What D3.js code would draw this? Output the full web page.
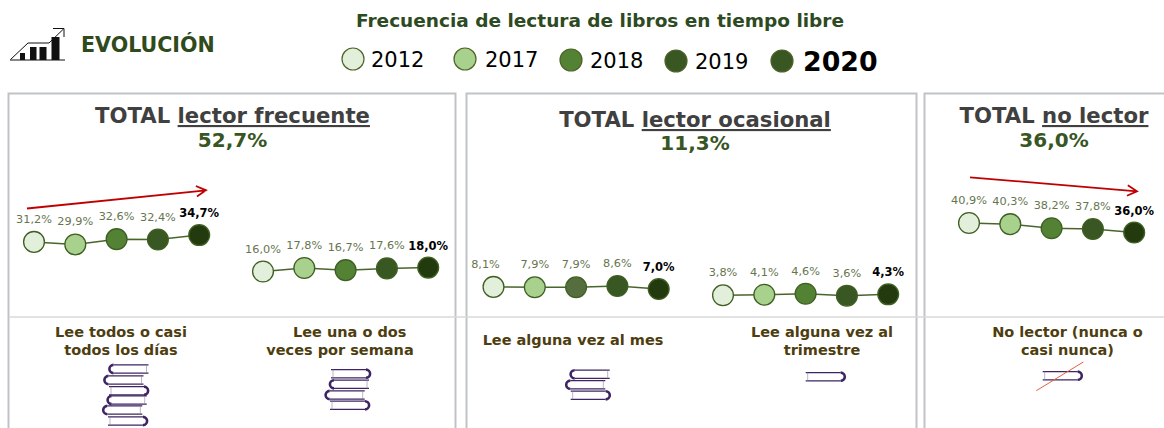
<!DOCTYPE html>
<html><head><meta charset="utf-8">
<script src="https://cdnjs.cloudflare.com/ajax/libs/d3/7.8.5/d3.min.js"></script>
<style>html,body{margin:0;padding:0;background:#fff}svg{display:block;font-family:"DejaVu Sans",Verdana,sans-serif}</style>
</head><body><svg id="c" width="1164" height="428"></svg>
<script>
const years = ["2012","2017","2018","2019","2020"];
const groups = ["diario","semanal","mensual","trimestral","nolector"];
const diario = [31.2,29.9,32.6,32.4,34.7];
const semanal = [16.0,17.8,16.7,17.6,18.0];
const mensual = [8.1,7.9,7.9,8.6,7.0];
const trimestral = [3.8,4.1,4.6,3.6,4.3];
const nolector = [40.9,40.3,38.2,37.8,36.0];
const seriesValues = [diario,semanal,mensual,trimestral,nolector];
const totalNames = ["lector frecuente","lector ocasional","no lector"];
const totalValues = ["52,7%","11,3%","36,0%"];
const categoryLines = [["Lee todos o casi","todos los días"],["Lee una o dos","veces por semana"],["Lee alguna vez al mes"],["Lee alguna vez al","trimestre"],["No lector (nunca o","casi nunca)"]];
const yearColors = ["#e2efda","#a9d18e","#548235","#385723","#233a0f"];
const legendColors = ["#e2efda","#a9d18e","#548235","#385723","#385723"];

const svg = d3.select("#c");
const fmt = v => d3.format(".1f")(v).replace(".",",")+"%";
const y = d3.scaleLinear().domain([0,45]).range([302.7,215]);
const groupX = d3.scaleOrdinal(groups,[34,263,493.5,723,969]);
const yearX = d3.scalePoint(years,[0,165.2]);

// panels
const panels=[[8.5,447],[466.5,450],[924.5,300]];
svg.selectAll("rect.p").data(panels).join("rect").attr("class","p")
 .attr("x",d=>d[0]).attr("y",93.5).attr("width",d=>d[1]).attr("height",400)
 .attr("fill","#fff").attr("stroke","#bfc3c8").attr("stroke-width",2);
svg.append("line").attr("x1",9).attr("x2",1164).attr("y1",317).attr("y2",317).attr("stroke","#d9d9d9").attr("stroke-width",1.5);

// header
svg.append("text").attr("x",81).attr("y",52).attr("font-size",20.6).attr("font-weight","bold").attr("fill","#2f4a1b").text("EVOLUCIÓN");
svg.append("text").attr("x",600).attr("y",27).attr("text-anchor","middle").attr("font-size",18.5).attr("font-weight","bold").attr("fill","#2d4a22").text("Frecuencia de lectura de libros en tiempo libre");

// trend icon
const ic=svg.append("g");
ic.append("path").attr("d","M10.5 59.5L28 43H49L63.5 29M53 28.5H64V37M10 60H65").attr("fill","none").attr("stroke","#111").attr("stroke-width",1);
ic.selectAll("rect").data([[20,53,5,7],[30,47,6.5,13],[39.5,47,7,13],[51.5,37,8,23]]).join("rect")
 .attr("x",d=>d[0]).attr("y",d=>d[1]).attr("width",d=>d[2]).attr("height",d=>d[3]).attr("fill","#111");

// legend
const legX=d3.scaleOrdinal(years,[353,465,571,676,782]);
const legY=d3.scaleOrdinal(years,[59,59,60,61,61]);
const legT=d3.scaleOrdinal(years,[371,485,590,695,803]);
svg.selectAll("circle.l").data(years).join("circle").attr("class","l")
 .attr("cx",d=>legX(d)).attr("cy",d=>legY(d)).attr("r",11)
 .attr("fill",(d,i)=>legendColors[i]).attr("stroke","#4f6228").attr("stroke-width",1.2);
svg.selectAll("text.l").data(years).join("text").attr("class","l")
 .attr("x",d=>legT(d)).attr("y",(d,i)=>legY(d)+(i==4?9.5:7.5))
 .attr("font-size",(d,i)=>i==4?26.8:21).attr("font-weight",(d,i)=>i==4?"bold":"normal").attr("fill","#000").text(d=>d);

// totals
const tCx=[232.5,695,1054], tY=[123,127,123], vY=[147,150,147];
totalNames.forEach((n,i)=>{
 const t=svg.append("text").attr("x",tCx[i]).attr("y",tY[i]).attr("text-anchor","middle").attr("font-size",21.2).attr("font-weight","bold").attr("fill","#404040");
 t.append("tspan").text("TOTAL ");
 t.append("tspan").attr("text-decoration","underline").text(n);
 svg.append("text").attr("x",tCx[i]).attr("y",vY[i]).attr("text-anchor","middle").attr("font-size",20).attr("font-weight","bold").attr("fill","#375623").text(totalValues[i]);
});

// series
const line=d3.line().x(d=>yearX(d.year)).y(d=>y(d.v));
groups.forEach((g,gi)=>{
 const data=seriesValues[gi].map((v,i)=>({v,year:years[i],i}));
 const G=svg.append("g").attr("transform",`translate(${groupX(g)},0)`);
 G.append("path").attr("d",line(data)).attr("fill","none").attr("stroke","#48652c").attr("stroke-width",1.5);
 G.selectAll("circle").data(data).join("circle").attr("cx",d=>yearX(d.year)).attr("cy",d=>y(d.v)).attr("r",10.4)
  .attr("fill",d=>(g=="mensual"&&d.i==2)?"#566e3d":yearColors[d.i]).attr("stroke","#3f5f22").attr("stroke-width",1.3);
 G.selectAll("text").data(data).join("text")
  .attr("x",d=>yearX(d.year)+(g=="mensual"&&d.i==0?-8:0)).attr("y",d=>y(d.v)+(d.i==4?-18:-19))
  .attr("text-anchor","middle").attr("font-size",d=>d.i==4?11.5:11.3).attr("font-weight",d=>d.i==4?"bold":"normal")
  .attr("fill",d=>d.i==4?"#000":"#66754f").text(d=>fmt(d.v));
});

// arrows
const arrow=(x1,y1,x2,y2)=>{
 const a=Math.atan2(y2-y1,x2-x1),L=11,s=.5;
 svg.append("path").attr("d",`M${x1} ${y1}L${x2} ${y2}M${x2-L*Math.cos(a-s)} ${y2-L*Math.sin(a-s)}L${x2} ${y2}L${x2-L*Math.cos(a+s)} ${y2-L*Math.sin(a+s)}`)
  .attr("fill","none").attr("stroke","#c00000").attr("stroke-width",1.8);
};
arrow(27,208.5,206,190.3);
arrow(970,177.3,1137,191.3);

// category labels
const catCx=[[121,121],[349.7,340],[573],[822,822],[1067.5,1067.5]];
const catY=[[337,354.5],[337,354.5],[345],[337,354.5],[337,354.5]];
categoryLines.forEach((ls,i)=>ls.forEach((s,j)=>{
 svg.append("text").attr("x",catCx[i][j]).attr("y",catY[i][j]).attr("text-anchor","middle").attr("font-size",14.5).attr("font-weight","bold").attr("fill","#4d3d0f").text(s);
}));

// books: [left, centre y, spine side]
const bookW=39,bookH=8.2;
const stacks=[
 [[109.5,369,"l"],[104.5,380,"l"],[109,390.7,"r"],[107.7,400,"l"],[103.3,410,"l"],[108,421,"r"]],
 [[331,373.7,"r"],[330,384.3,"l"],[325.7,395,"l"],[330,405.3,"r"]],
 [[570.7,374.3,"l"],[566.3,384.7,"l"],[570.7,395.3,"r"]],
 [[805.7,376.7,"r"]],
 [[1042.7,375.7,"r"]]];
const bk=svg.append("g").attr("fill","none").attr("stroke","#3d2463");
stacks.flat().forEach(([x,c,s])=>{
 const t=c-bookH/2,b=c+bookH/2,r=x+bookW;
 if(s=="r"){
  bk.append("path").attr("d",`M${x} ${t}H${r-4}M${x} ${b}H${r-4}`).attr("stroke-width",1.2);
  bk.append("path").attr("d",`M${r-4} ${t}A4.1 4.1 0 0 1 ${r-4} ${b}`).attr("stroke-width",2.6);
  bk.append("path").attr("d",`M${x+2} ${t}V${b}`).attr("stroke-width",.6).attr("stroke","#8d8599");
 } else {
  bk.append("path").attr("d",`M${x+4} ${t}H${r}M${x+4} ${b}H${r}`).attr("stroke-width",1.2);
  bk.append("path").attr("d",`M${x+4} ${t}A4.1 4.1 0 0 0 ${x+4} ${b}`).attr("stroke-width",2.6);
  bk.append("path").attr("d",`M${r-2} ${t}V${b}`).attr("stroke-width",.6).attr("stroke","#8d8599");
 }
});
svg.append("line").attr("x1",1036.3).attr("y1",390.7).attr("x2",1083.3).attr("y2",362).attr("stroke","#e8603c").attr("stroke-width",1);
</script></body></html>
